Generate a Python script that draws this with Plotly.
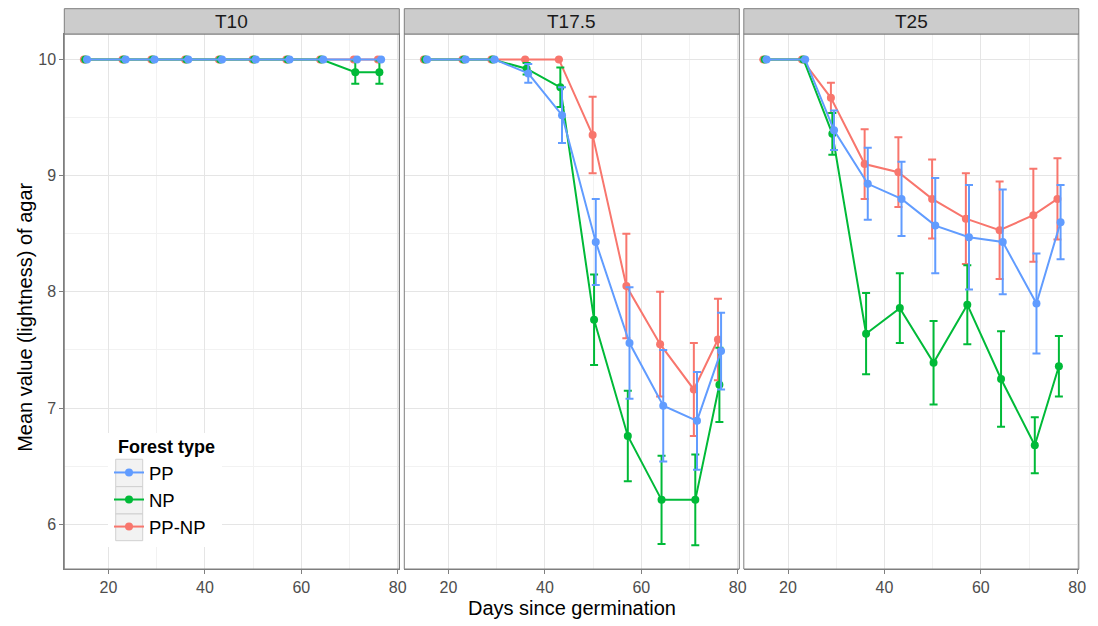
import plotly.graph_objects as go

# ---------------- data ----------------
days = [15, 23, 29, 36, 43, 50, 57, 64, 71, 76]
panels = ["T10", "T17.5", "T25"]
series_names = ["PP", "NP", "PP-NP"]

# mean values
T10_PP = [10, 10, 10, 10, 10, 10, 10, 10, 10, 10]
T10_NP = [10, 10, 10, 10, 10, 10, 10, 10, 9.89, 9.89]
T10_PPNP = [10, 10, 10, 10, 10, 10, 10, 10, 10, 10]

T175_PP = [10, 10, 10, 9.88, 9.52, 8.43, 7.56, 7.02, 6.89, 7.49]
T175_NP = [10, 10, 10, 9.92, 9.76, 7.76, 6.76, 6.21, 6.21, 7.20]
T175_PPNP = [10, 10, 10, 10, 10, 9.35, 8.05, 7.55, 7.16, 7.59]

T25_PP = [10, 10, 9.39, 8.93, 8.80, 8.57, 8.47, 8.43, 7.90, 8.60]
T25_NP = [10, 10, 9.36, 7.64, 7.86, 7.39, 7.89, 7.25, 6.68, 7.36]
T25_PPNP = [10, 10, 9.67, 9.10, 9.03, 8.80, 8.63, 8.53, 8.66, 8.80]

# standard errors
T10_PP_se = [0, 0, 0, 0, 0, 0, 0, 0, 0, 0]
T10_NP_se = [0, 0, 0, 0, 0, 0, 0, 0, 0.10, 0.10]
T10_PPNP_se = [0, 0, 0, 0, 0, 0, 0, 0, 0, 0]

T175_PP_se = [0, 0, 0, 0.08, 0.24, 0.37, 0.48, 0.48, 0.42, 0.33]
T175_NP_se = [0, 0, 0, 0.05, 0.17, 0.39, 0.39, 0.38, 0.39, 0.32]
T175_PPNP_se = [0, 0, 0, 0, 0, 0.33, 0.45, 0.45, 0.40, 0.35]

T25_PP_se = [0, 0, 0.17, 0.31, 0.32, 0.41, 0.45, 0.45, 0.43, 0.32]
T25_NP_se = [0, 0, 0.18, 0.35, 0.30, 0.36, 0.34, 0.41, 0.24, 0.26]
T25_PPNP_se = [0, 0, 0.13, 0.30, 0.30, 0.34, 0.39, 0.42, 0.40, 0.35]

x_ticks = [20, 40, 60, 80]
y_ticks = [6, 7, 8, 9, 10]

# ---------------- styling ----------------
W, H = 1098, 626
colors = {"PP": "#619CFF", "NP": "#00BA38", "PP-NP": "#F8766D"}
dodge = {"PP-NP": -0.1, "NP": 0.2, "PP": 0.55}
draw_order = ["PP-NP", "NP", "PP"]
legend_rank = {"PP": 1, "NP": 2, "PP-NP": 3}

values = {
    "T10": {"PP": (T10_PP, T10_PP_se), "NP": (T10_NP, T10_NP_se), "PP-NP": (T10_PPNP, T10_PPNP_se)},
    "T17.5": {"PP": (T175_PP, T175_PP_se), "NP": (T175_NP, T175_NP_se), "PP-NP": (T175_PPNP, T175_PPNP_se)},
    "T25": {"PP": (T25_PP, T25_PP_se), "NP": (T25_NP, T25_NP_se), "PP-NP": (T25_PPNP, T25_PPNP_se)},
}

# pixel geometry
plot_top, plot_bot = 34.3, 569.0
strip_top = 9.0
panel_px = [(64.3, 399.3), (404.3, 739.3), (743.8, 1078.8)]
xr = [10.83, 80.33]
yr = [5.615, 10.219]

ph = plot_bot - plot_top
fig = go.Figure()

FONT = "Liberation Sans, Arial, sans-serif"


def py(p):
    """pixel row -> paper y"""
    return (plot_bot - p) / ph


for i, p in enumerate(panels):
    xa = "x" if i == 0 else f"x{i+1}"
    for s in draw_order:
        yv, se = values[p][s]
        xs = [d + dodge[s] for d in days]
        fig.add_trace(go.Scatter(
            x=xs, y=yv, xaxis=xa, yaxis="y",
            mode="lines+markers", name=s,
            legendgroup=s, showlegend=(i == 0), legendrank=legend_rank[s],
            line=dict(color=colors[s], width=2),
            marker=dict(color=colors[s], size=8),
            error_y=dict(type="data", array=se, visible=True,
                         color=colors[s], thickness=2, width=4),
            hoverinfo="x+y+name",
        ))

layout = dict(
    width=W, height=H,
    margin=dict(l=0, r=0, t=plot_top, b=H - plot_bot),
    paper_bgcolor="white", plot_bgcolor="white",
    font=dict(family=FONT, size=16, color="#4D4D4D"),
    showlegend=True,
    legend=dict(
        x=109 / W, y=py(454), xanchor="left", yanchor="top",
        bgcolor="rgba(255,255,255,0)",
        font=dict(size=18.5, color="black", family=FONT),
        tracegroupgap=0, itemwidth=30,
    ),
    yaxis=dict(
        domain=[0, 1], range=yr, tickvals=y_ticks, ticks="outside", ticklen=4,
        tickcolor="#7F7F7F", tickfont=dict(size=16, color="#4D4D4D"),
        showgrid=True, gridcolor="#E5E5E5", gridwidth=1,
        minor=dict(dtick=0.5, tick0=0, showgrid=True, gridcolor="#F2F2F2", gridwidth=0.8, ticks=""),
        showline=True, linecolor="#7F7F7F", linewidth=1, mirror=True,
        zeroline=False, automargin=False, anchor="x",
    ),
)

for i in range(3):
    key = "xaxis" if i == 0 else f"xaxis{i+1}"
    x0, x1 = panel_px[i]
    layout[key] = dict(
        domain=[x0 / W, x1 / W], range=xr, tickvals=x_ticks,
        ticks="outside", ticklen=4, tickcolor="#7F7F7F",
        tickfont=dict(size=16, color="#4D4D4D"),
        showgrid=True, gridcolor="#E5E5E5", gridwidth=1,
        minor=dict(dtick=10, tick0=0, showgrid=True, gridcolor="#F2F2F2", gridwidth=0.8, ticks=""),
        showline=True, linecolor="#7F7F7F", linewidth=1, mirror=True,
        zeroline=False, automargin=False, anchor="y",
    )

fig.update_layout(**layout)

shapes = []
annotations = []
strip_h = (plot_top - strip_top) / ph
for i, p in enumerate(panels):
    x0, x1 = panel_px[i]
    shapes.append(dict(type="rect", xref="paper", yref="paper",
                       x0=x0 / W, x1=x1 / W, y0=0, y1=1,
                       line=dict(color="#7F7F7F", width=1), fillcolor="rgba(0,0,0,0)", layer="above"))
    shapes.append(dict(type="rect", xref="paper", yref="paper",
                       x0=x0 / W, x1=x1 / W, y0=1, y1=1 + strip_h,
                       line=dict(color="#7F7F7F", width=1), fillcolor="#CCCCCC", layer="above"))
    annotations.append(dict(text=p, xref="paper", yref="paper",
                            x=(x0 + x1) / 2 / W, y=1 + strip_h / 2,
                            xanchor="center", yanchor="middle", showarrow=False,
                            font=dict(size=19, color="#1A1A1A", family=FONT)))

# legend background, title and key boxes (ggplot-style)
shapes.append(dict(type="rect", xref="paper", yref="paper",
                   x0=108 / W, x1=222 / W, y0=py(547), y1=py(433),
                   line=dict(width=0), fillcolor="white", layer="above"))
key_rows = [(459.3, 486.7), (486.7, 514.0), (514.0, 540.7)]
for (r0, r1) in key_rows:
    shapes.append(dict(type="rect", xref="paper", yref="paper",
                       x0=115.7 / W, x1=142.7 / W, y0=py(r1), y1=py(r0),
                       line=dict(color="#D0D0D0", width=1), fillcolor="#F2F2F2", layer="above"))
annotations.append(dict(text="<b>Forest type</b>", xref="paper", yref="paper",
                        x=116 / W, y=py(447), xanchor="left", yanchor="middle",
                        showarrow=False, font=dict(size=18, color="black", family=FONT)))

annotations.append(dict(text="Days since germination", xref="paper", yref="paper",
                        x=572 / W, y=py(608), xanchor="center", yanchor="middle",
                        showarrow=False, font=dict(size=20, color="black", family=FONT)))
annotations.append(dict(text="Mean value (lightness) of agar", xref="paper", yref="paper",
                        x=25 / W, y=py(318), xanchor="center", yanchor="middle",
                        textangle=-90, showarrow=False,
                        font=dict(size=20, color="black", family=FONT)))

fig.update_layout(shapes=shapes, annotations=annotations)

fig.write_html("out.html", config={"displayModeBar": False},
               post_script="document.body.style.margin='0px';")
